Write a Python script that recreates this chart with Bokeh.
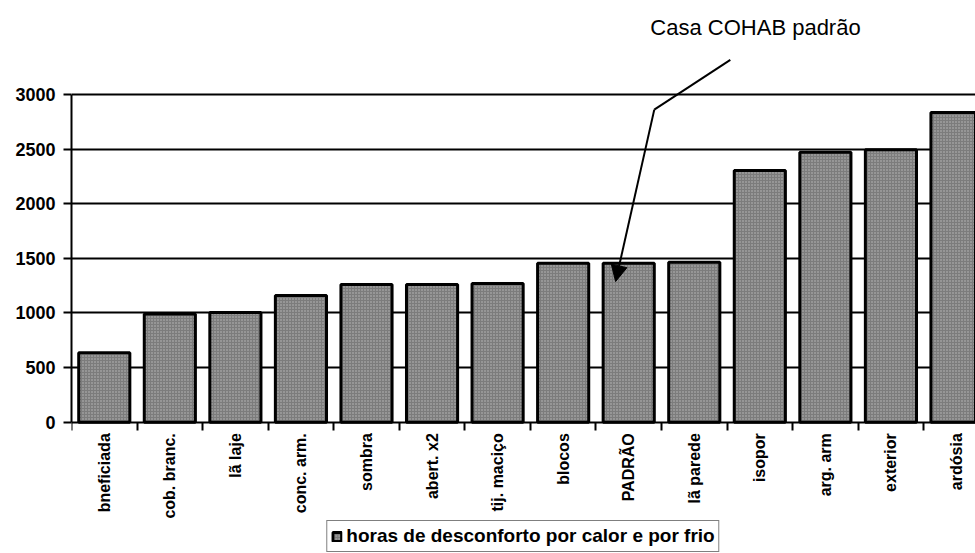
import math
from bokeh.plotting import figure
from bokeh.models import (Range1d, FixedTicker, ColumnDataSource, Legend, LegendItem,
                          Arrow, NormalHead)
from bokeh.core.properties import value
from bokeh.embed import file_html
from bokeh.resources import INLINE

# ---- data ----
categories = ["bneficiada", "cob. branc.", "lã laje", "conc. arm.", "sombra", "abert. x2",
              "tij. maciço", "blocos", "PADRÃO", "lã parede", "isopor", "arg. arm",
              "exterior", "ardósia"]
hours = [635, 990, 1005, 1160, 1260, 1260, 1270, 1455, 1455, 1465, 2305, 2472, 2494, 2836]
y_ticks = [0, 500, 1000, 1500, 2000, 2500, 3000]
series_label = "horas de desconforto por calor e por frio"
annotation_text = "Casa COHAB padrão"

# annotation geometry (data coordinates)
ann_text_pos = (8.33, 3615)
ann_line_start = (9.55, 3318)
ann_bend = (8.39, 2862)
ann_tip = (7.80, 1288)

FONT = "Liberation Sans"

xs = list(range(len(categories)))
src = ColumnDataSource(dict(x=xs, top=hours))

p = figure(width=975, height=553,
           x_range=Range1d(-0.5, 13.29), y_range=Range1d(-1202, 3861),
           output_backend="svg", toolbar_location=None,
           min_border_left=71, min_border_right=0, min_border_top=0,
           min_border_bottom=0)
p.outline_line_color = None
p.background_fill_color = "white"
p.border_fill_color = "white"

# grid
p.xgrid.visible = False
p.ygrid.ticker = FixedTicker(ticks=y_ticks[1:])
p.ygrid.grid_line_color = "black"
p.ygrid.grid_line_width = 2
p.ygrid.grid_line_alpha = 1.0

# bars
r = p.vbar(x="x", top="top", width=0.78, source=src,
           fill_color="#7c7c7c", line_color="black", line_width=3,
           hatch_pattern="dot", hatch_color="white", hatch_scale=3,
           hatch_alpha=0.5, hatch_weight=1)

# y axis
ya = p.yaxis[0]
ya.ticker = FixedTicker(ticks=y_ticks)
ya.bounds = (0, 3000)
ya.axis_line_color = "black"
ya.axis_line_width = 2
ya.major_tick_out = 8
ya.major_tick_in = 0
ya.major_tick_line_width = 2
ya.minor_tick_line_color = None
ya.major_label_standoff = 8
ya.major_label_text_font = FONT
ya.major_label_text_font_style = "bold"
ya.major_label_text_font_size = "18px"
ya.major_label_text_color = "black"

# x axis, drawn at y = 0
xa = p.xaxis[0]
xa.fixed_location = 0
xa.ticker = FixedTicker(ticks=xs, minor_ticks=[i - 0.5 for i in range(len(categories) + 1)])
xa.major_label_overrides = {i: c for i, c in enumerate(categories)}
xa.major_tick_line_color = None
xa.major_tick_out = 8
xa.minor_tick_out = 8
xa.minor_tick_in = 0
xa.minor_tick_line_width = 2
xa.minor_tick_line_color = "black"
xa.axis_line_color = "black"
xa.axis_line_width = 2
xa.major_label_orientation = math.pi / 2
xa.major_label_standoff = 3
xa.major_label_text_font = FONT
xa.major_label_text_font_style = "bold"
xa.major_label_text_font_size = "16px"
xa.major_label_text_color = "black"

# annotation
p.text(x=[ann_text_pos[0]], y=[ann_text_pos[1]], text=[annotation_text],
       text_font=value(FONT), text_font_size="22px", text_color="black",
       text_baseline="alphabetic", text_align="left")
p.segment(x0=[ann_line_start[0]], y0=[ann_line_start[1]],
          x1=[ann_bend[0]], y1=[ann_bend[1]], line_color="black", line_width=2)
p.add_layout(Arrow(x_start=ann_bend[0], y_start=ann_bend[1],
                   x_end=ann_tip[0], y_end=ann_tip[1],
                   line_color="black", line_width=2,
                   end=NormalHead(size=16, fill_color="black", line_color="black")))

# legend (below the category labels)
legend = Legend(items=[LegendItem(label=series_label, renderers=[r])],
                location="bottom_center", orientation="horizontal",
                label_text_font=FONT, label_text_font_style="bold",
                label_text_font_size="19px", label_text_color="black",
                glyph_width=11, glyph_height=11, label_standoff=4,
                padding=4, margin=1, spacing=0,
                border_line_color="black", border_line_width=1.5,
                background_fill_color="white")
p.add_layout(legend, "center")

open("out.html", "w").write(file_html(p, INLINE))
